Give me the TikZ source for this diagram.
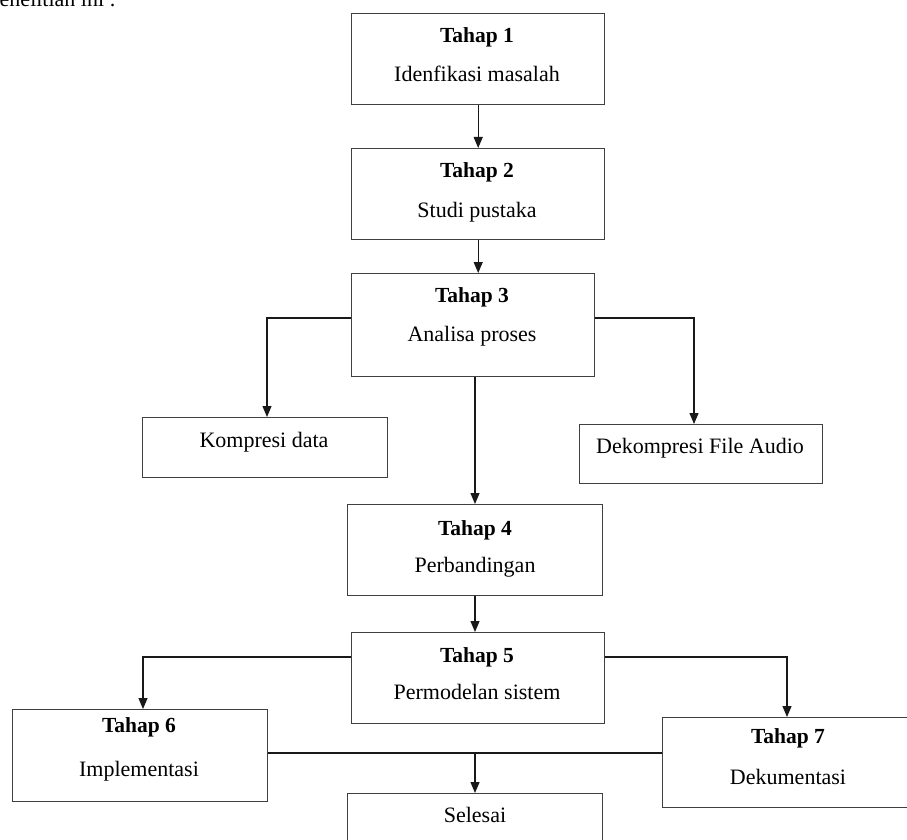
\documentclass[tikz,border=0pt]{standalone}
\usepackage{fontspec}
\setmainfont{Liberation Serif}
\usetikzlibrary{arrows.meta}
\begin{document}
\begin{tikzpicture}[x=1pt,y=-1pt,
  box/.style={draw=black!75,line width=1.4pt,fill=white,inner sep=0pt,anchor=north west},
  lbl/.style={font=\fontsize{22}{25}\selectfont,inner sep=0pt,anchor=base},
  ttl/.style={font=\fontsize{21.5}{25}\selectfont\bfseries,inner sep=0pt,anchor=base},
  conn/.style={line width=1.2pt,draw=black!90},
  arr/.style={conn,-{Triangle[length=11pt,width=9pt]}}]
\clip (0,0) rectangle (907,840);
\fill[white] (0,0) rectangle (907,840);
% cut-off paragraph text at the top
\node[lbl,anchor=base east] (para) at (116,7) {penelitian ini :};
% boxes
\node[box,minimum width=253,minimum height=91] (b1) at (351,13) {};
\node[box,minimum width=253,minimum height=91] (b2) at (351,148) {};
\node[box,minimum width=243,minimum height=103] (b3) at (351,273) {};
\node[box,minimum width=245,minimum height=60] (kd) at (142,417) {};
\node[box,minimum width=243,minimum height=59] (dk) at (579,424) {};
\node[box,minimum width=255,minimum height=91] (b4) at (347,504) {};
\node[box,minimum width=253,minimum height=91] (b5) at (351,632) {};
\node[box,minimum width=255,minimum height=92] (b6) at (12,709) {};
\node[box,minimum width=253,minimum height=90] (b7) at (662,717) {};
\node[box,minimum width=255,minimum height=70] (sel) at (347,793) {};
% texts
\node[ttl] (t1) at (477,43) {Tahap 1};
\node[lbl] (s1) at (477,82) {Idenfikasi masalah};
\node[ttl] (t2) at (477,177) {Tahap 2};
\node[lbl] (s2) at (477,217) {Studi pustaka};
\node[ttl] (t3) at (472,302) {Tahap 3};
\node[lbl] (s3) at (472,341) {Analisa proses};
\node[lbl] (skd) at (264,447) {Kompresi data};
\node[lbl] (sdk) at (700,453) {Dekompresi File Audio};
\node[ttl] (t4) at (475,535) {Tahap 4};
\node[lbl] (s4) at (475,572) {Perbandingan};
\node[ttl] (t5) at (477,662) {Tahap 5};
\node[lbl] (s5) at (477,699) {Permodelan sistem};
\node[ttl] (t6) at (139,732) {Tahap 6};
\node[lbl] (s6) at (139,776) {Implementasi};
\node[ttl] (t7) at (788,743) {Tahap 7};
\node[lbl] (s7) at (788,784) {Dekumentasi};
\node[lbl] (ssel) at (475,822) {Selesai};
% connectors
\draw[arr] (b1.south) -- (b1.south |- b2.north);
\draw[arr] (b2.south) -- (b2.south |- b3.north);
\draw[arr] (b3.west |- 0,318) -| (kd.north -| 267,0);
\draw[arr] (b3.east |- 0,318) -| (dk.north -| 694,0);
\draw[arr] (b3.south -| 475,0) -- (b4.north -| 475,0);
\draw[arr] (b4.south -| 475,0) -- (b5.north -| 475,0);
\draw[arr] (b5.west |- 0,657) -| (b6.north -| 143,0);
\draw[arr] (b5.east |- 0,657) -| (b7.north -| 787,0);
\draw[conn] (b6.east |- 0,753) -- (b7.west |- 0,753);
\coordinate (j) at (475,753);
\draw[arr] (j) -- (j |- sel.north);
\end{tikzpicture}
\end{document}
